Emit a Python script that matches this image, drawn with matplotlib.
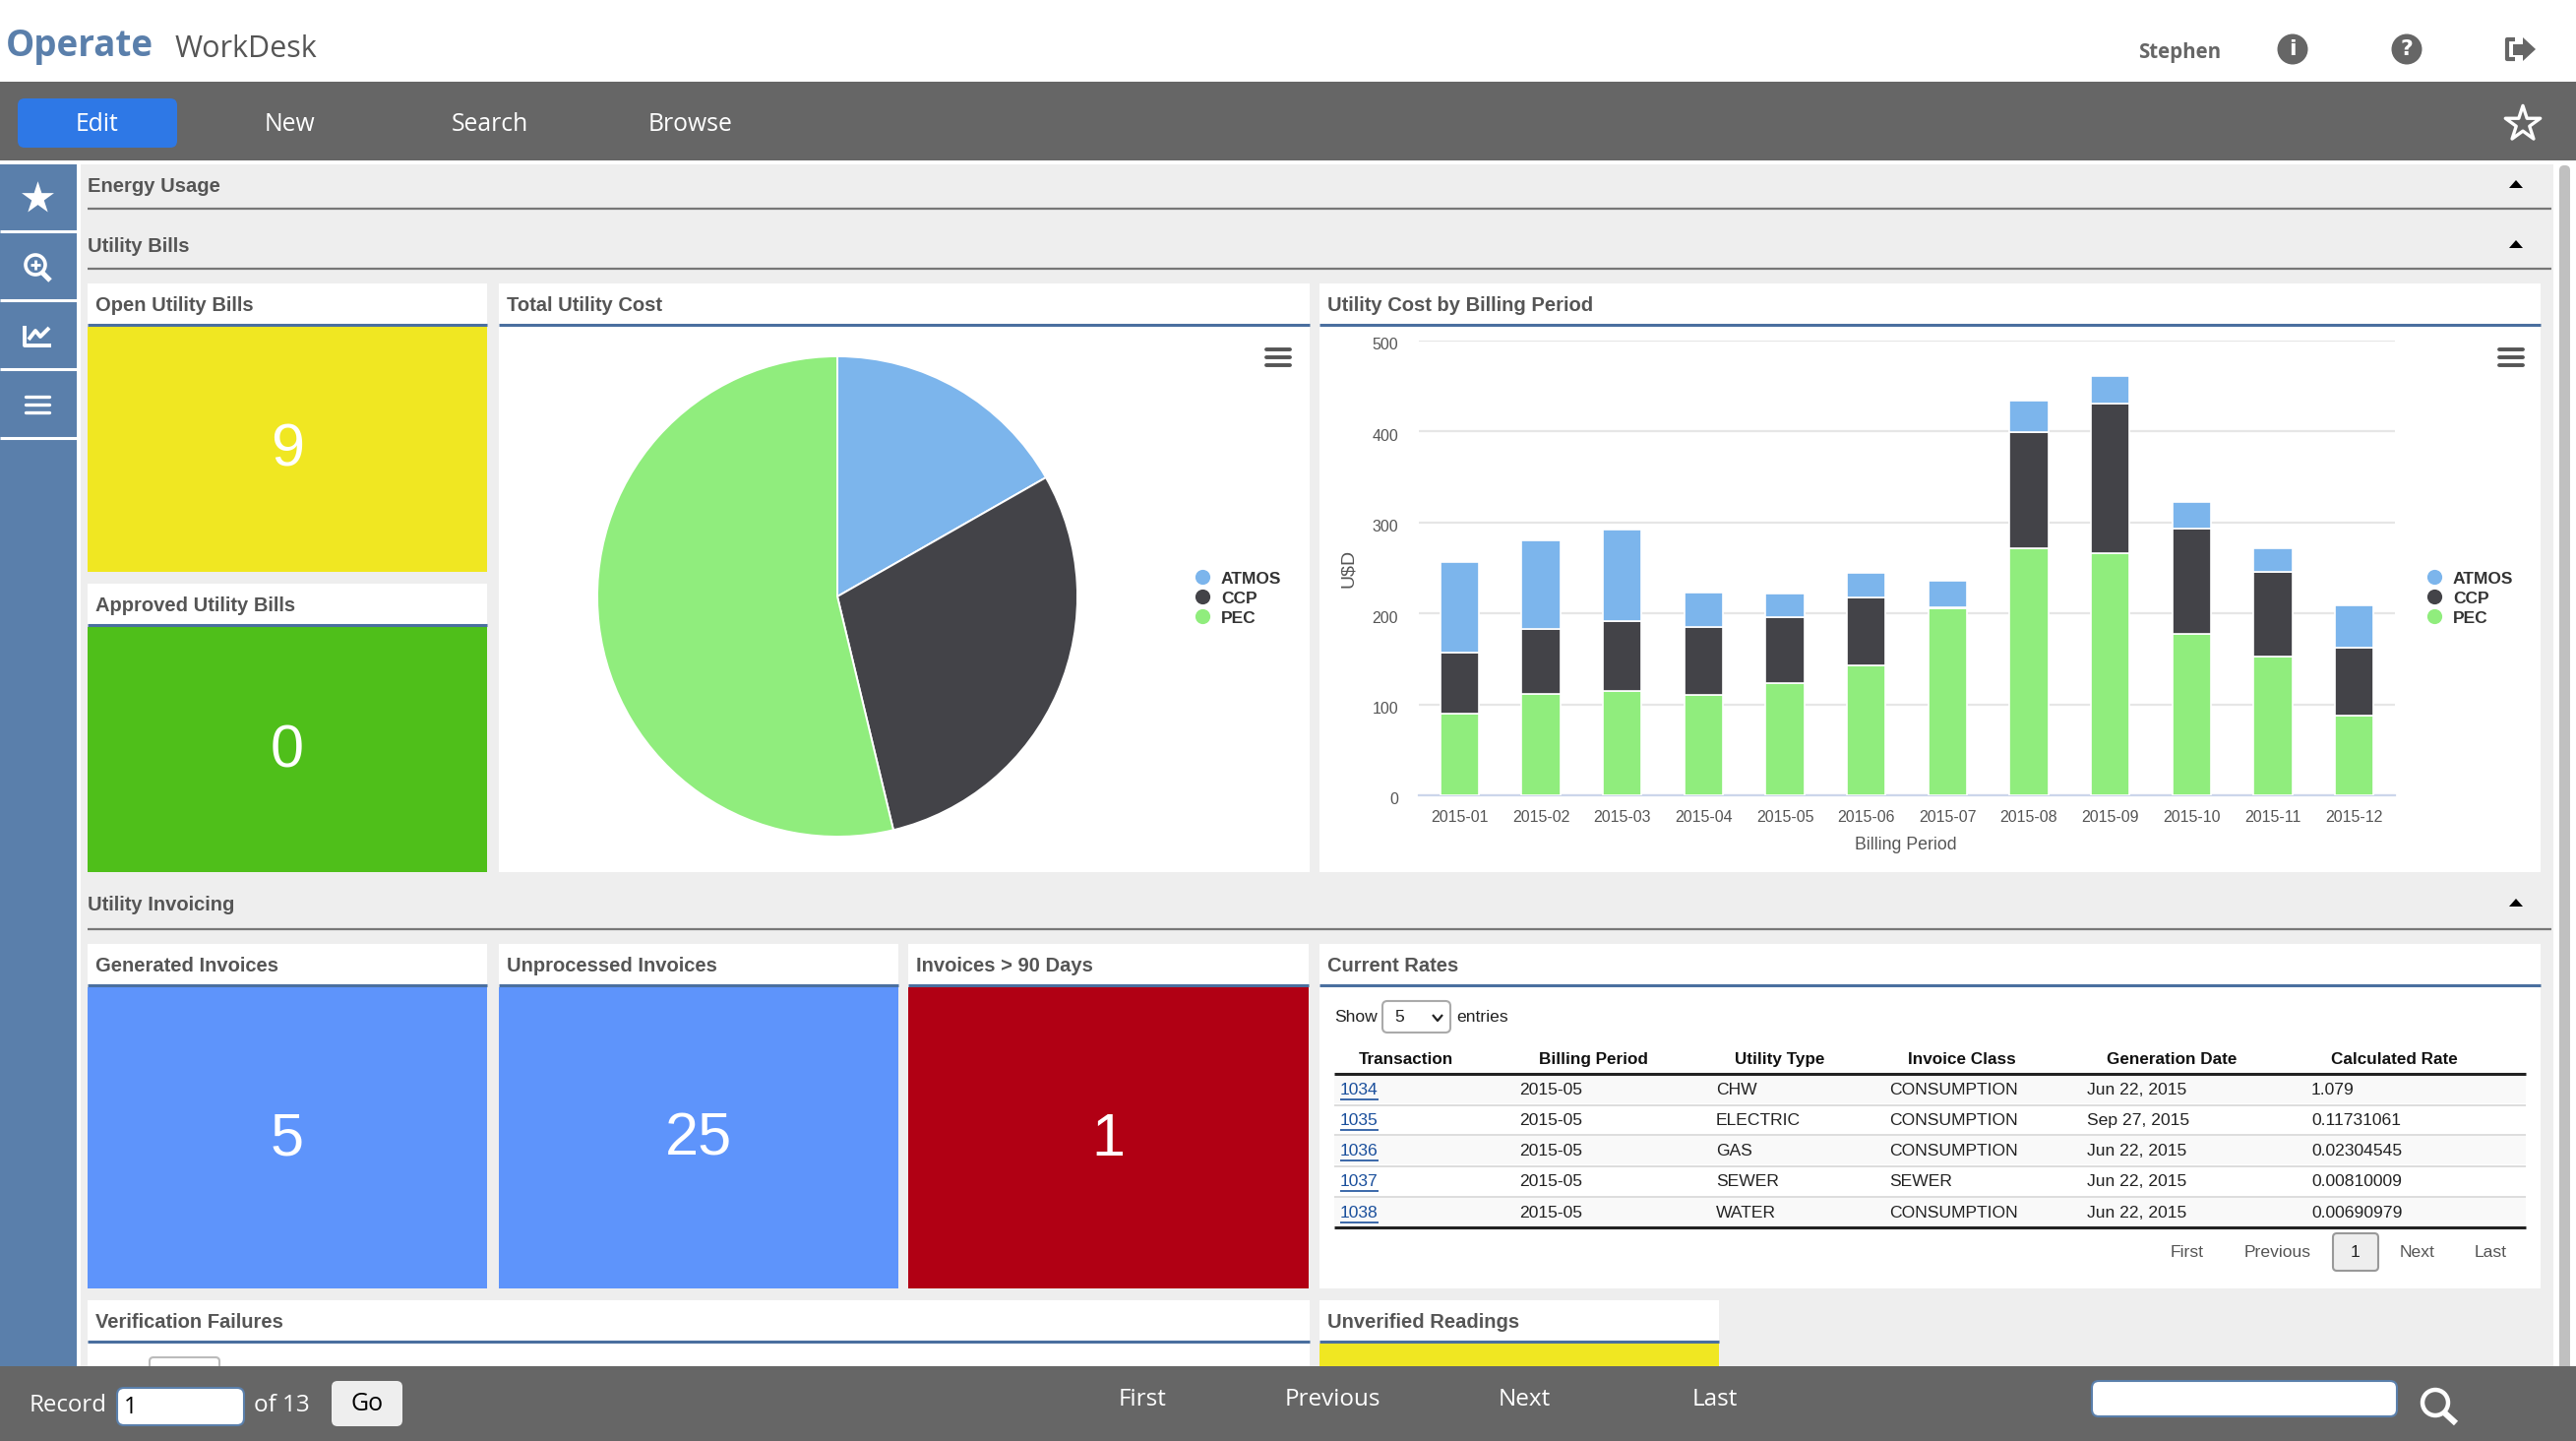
"""
Operate WorkDesk dashboard: page chrome on a full canvas axes in pixel units,
pie and stacked bars on their own axes placed on top of it.
"""

import matplotlib
matplotlib.use("Agg")
import matplotlib.pyplot as plt
from matplotlib.patches import Circle, FancyBboxPatch, Rectangle
from matplotlib.transforms import ScaledTranslation

W, H = 2618, 1464

SERIES = ["ATMOS", "CCP", "PEC"]
SERIES_COLORS = ["#7cb5ec", "#434348", "#90ed7d"]

# shares of the pie, clockwise from twelve o'clock
PIE_SHARES = [16.75, 29.5, 53.75]

PERIODS = ["2015-01", "2015-02", "2015-03", "2015-04", "2015-05", "2015-06",
           "2015-07", "2015-08", "2015-09", "2015-10", "2015-11", "2015-12"]
PEC = [90, 112, 115, 110, 123, 143, 206, 272, 266, 178, 153, 88]
CCP = [67, 71, 77, 75, 73, 75, 1, 127, 165, 115, 93, 74]
ATMOS = [99, 97, 100, 38, 26, 27, 29, 35, 30, 29, 26, 47]
Y_TICKS = [0, 100, 200, 300, 400, 500]

TABLE_HEADERS = ["Transaction", "Billing Period", "Utility Type",
                 "Invoice Class", "Generation Date", "Calculated Rate"]
TRANSACTIONS = ["1034", "1035", "1036", "1037", "1038"]
BILLING = ["2015-05", "2015-05", "2015-05", "2015-05", "2015-05"]
UTILITY = ["CHW", "ELECTRIC", "GAS", "SEWER", "WATER"]
INVOICE = ["CONSUMPTION", "CONSUMPTION", "CONSUMPTION", "SEWER", "CONSUMPTION"]
GEN_DATE = ["Jun 22, 2015", "Sep 27, 2015", "Jun 22, 2015", "Jun 22, 2015", "Jun 22, 2015"]
RATES = ["1.079", "0.11731061", "0.02304545", "0.00810009", "0.00690979"]

NAV_BG = "#666666"
SIDE_BLUE = "#5a7fab"
PAGE_BG = "#eeeeee"
TITLE_GREY = "#555555"
YELLOW = "#f0e722"
GREEN = "#4fbf1a"
BLUE = "#5e94fb"
RED = "#b10014"

UI_FONT = "Open Sans"
BODY_FONT = "Liberation Sans"

fig = plt.figure(figsize=(W / 100, H / 100), dpi=100, facecolor="white")
ui = fig.add_axes([0, 0, 1, 1], zorder=0)
ui.set_xlim(0, W)
ui.set_ylim(H, 0)
ui.axis("off")


def rect(x0, y0, x1, y1, color, z=1):
    ui.add_patch(Rectangle((x0, y0), x1 - x0, y1 - y0, facecolor=color, edgecolor="none", zorder=z))


def rounded(x0, y0, x1, y1, face, edge="none", lw=1.5, r=6, z=3):
    ui.add_patch(FancyBboxPatch((x0, y0), x1 - x0, y1 - y0, boxstyle=f"round,pad=0,rounding_size={r}",
                                facecolor=face, edgecolor=edge, linewidth=lw, zorder=z))


def label(x, y, s, size=12.6, color="#222222", weight="normal", ha="left", font=BODY_FONT, z=5, **kw):
    # browser text sits a touch lower than matplotlib's centre
    return ui.text(x, y + 1.5, s, fontsize=size, color=color, fontweight=weight, ha=ha, va="center",
                   family=font, zorder=z, **kw)


def line(xs, ys, color, lw=2, z=5, **kw):
    ui.plot(xs, ys, color=color, lw=lw, zorder=z, solid_capstyle=kw.pop("cap", "butt"), **kw)


def panel(x0, y0, x1, y1, title, fill=None, number=None):
    # white title band, blue rule, then either a coloured tile or a white body
    rect(x0, y0, x1, y1, "white", z=2)
    line([x0, x1], [y0 + 42, y0 + 42], "#4a6f9f", lw=2.2, z=3)
    label(x0 + 8, y0 + 21, title, size=14.5, color=TITLE_GREY, weight="bold")
    if fill:
        rect(x0, y0 + 44, x1, y1, fill, z=2)
    if number:
        label((x0 + x1) / 2, (y0 + 45 + y1) / 2, number, size=44, color="white", ha="center")


def section(y_text, y_rule, title):
    label(89, y_text, title, size=14.5, color=TITLE_GREY, weight="bold")
    line([89, 2593], [y_rule, y_rule], "#777777", lw=1.6, z=3)
    ui.fill([2550, 2564, 2557], [y_text + 3, y_text + 3, y_text - 5], color="black", lw=0, zorder=5)


def hamburger(cx, cy, half=12, color="#555555", lw=2.8):
    for dy in (-8, 0, 8):
        line([cx - half, cx + half], [cy + dy, cy + dy], color, lw=lw, cap="round")


def add_axes_px(x0, y0, x1, y1):
    return fig.add_axes([x0 / W, 1 - y1 / H, (x1 - x0) / W, (y1 - y0) / H], zorder=2)


# ---- Page background ----
rect(82, 167, 2595, 1388, PAGE_BG, z=0)
rect(0, 167, 78, 1388, SIDE_BLUE, z=1)
for y in (235, 305, 375, 445):
    line([0, 78], [y, y], "white", lw=2.2, z=2)
rounded(2601, 168, 2612, 1420, "#c0c0c0", r=5, z=1)

# ---- Top header ----
label(6, 46, "Operate", size=26.5, color=SIDE_BLUE, weight="bold", font=UI_FONT)
label(178, 48, "WorkDesk", size=22, color="#555555", font=UI_FONT)
label(2173, 52, "Stephen", size=14.8, color="#666666", weight="bold", font=UI_FONT)
for cx, glyph in ((2330, "i"), (2446, "?")):
    ui.add_patch(Circle((cx, 50), 15.5, facecolor="#666666", edgecolor="none", zorder=3))
    label(cx, 48, glyph, size=16, color="white", weight="bold", ha="center", font="DejaVu Sans")
# logout icon: bracket and arrow
line([2556, 2548, 2548, 2556], [40, 40, 60, 60], "#666666", lw=3)
rect(2554, 45, 2565, 56, "#666666", z=5)
ui.fill([2564, 2577, 2564], [38, 50, 62], color="#666666", lw=0, zorder=5)

# ---- Nav bar ----
rect(0, 83, W, 163, NAV_BG, z=1)
rounded(18, 100, 180, 150, "#2e78e6", r=7)
for cx, s in ((99, "Edit"), (294, "New"), (498, "Search"), (702, "Browse")):
    label(cx, 125, s, size=17.8, color="white", ha="center", font=UI_FONT)
ui.scatter([2564], [126], marker="*", s=720, facecolor="none", edgecolor="white", linewidths=2.4, zorder=5)

# ---- Sidebar icons ----
ui.scatter([38], [201], marker="*", s=620, color="white", linewidths=0, zorder=5)
ui.add_patch(Circle((36, 269), 10, facecolor="none", edgecolor="white", linewidth=2.6, zorder=5))
line([43, 51], [277, 285], "white", lw=3.6)
line([31, 41], [269, 269], "white", lw=2)
line([36, 36], [264, 274], "white", lw=2)
line([25, 25, 52], [331, 351, 351], "white", lw=2.8)
line([29, 36, 41, 50], [345, 336, 342, 333], "white", lw=2.8)
hamburger(38, 411, half=12, color="white", lw=2.4)

# ---- Sections and panels ----
section(188, 212, "Energy Usage")
section(249, 273, "Utility Bills")
section(918, 944, "Utility Invoicing")

panel(89, 288, 495, 581, "Open Utility Bills", YELLOW, "9")
panel(89, 593, 495, 886, "Approved Utility Bills", GREEN, "0")
panel(507, 288, 1331, 886, "Total Utility Cost")
panel(1341, 288, 2582, 886, "Utility Cost by Billing Period")
hamburger(1299, 363)
hamburger(2552, 363)

panel(89, 959, 495, 1309, "Generated Invoices", BLUE, "5")
panel(507, 959, 913, 1309, "Unprocessed Invoices", BLUE, "25")
panel(923, 959, 1330, 1309, "Invoices > 90 Days", RED, "1")
panel(1341, 959, 2582, 1309, "Current Rates")

panel(89, 1321, 1331, 1400, "Verification Failures")
panel(1341, 1321, 1747, 1400, "Unverified Readings", YELLOW)
rounded(152, 1379, 223, 1400, "white", edge="#bbbbbb", r=4)

# ---- Pie ----
ax_pie = add_axes_px(851 - 245, 606 - 245, 851 + 245, 606 + 245)
ax_pie.pie(PIE_SHARES, colors=SERIES_COLORS, startangle=90, counterclock=False, radius=244 / 245,
           wedgeprops={"edgecolor": "white", "linewidth": 1.4})
ax_pie.set_xlim(-1, 1)
ax_pie.set_ylim(-1, 1)

for name, color, y in zip(SERIES, SERIES_COLORS, (586, 606, 626)):
    for x_mark, x_text in ((1222, 1241), (2474, 2493)):
        ui.scatter([x_mark], [y], s=120, color=color, linewidths=0, zorder=5)
        label(x_text, y + 1, name, size=12.5, color="#333333", weight="bold")

# ---- Stacked bars ----
ax_bar = add_axes_px(1442, 346, 2434, 808)
ax_bar.patch.set_alpha(0)
positions = range(len(PERIODS))
bar_style = {"width": 0.475, "edgecolor": "white", "linewidth": 1.2, "zorder": 3}
ax_bar.bar(positions, PEC, color=SERIES_COLORS[2], **bar_style)
ax_bar.bar(positions, CCP, bottom=PEC, color=SERIES_COLORS[1], **bar_style)
stack = [p + c for p, c in zip(PEC, CCP)]
ax_bar.bar(positions, ATMOS, bottom=stack, color=SERIES_COLORS[0], **bar_style)
ax_bar.set_xlim(-0.5, 11.5)
ax_bar.set_ylim(0, 500)
ax_bar.set_xticks(list(positions), PERIODS, family=BODY_FONT, fontsize=11.5, color="#555555")
ax_bar.set_yticks(Y_TICKS)
ax_bar.set_yticklabels([str(v) for v in Y_TICKS], family=BODY_FONT, fontsize=11.5, color="#555555")
ax_bar.tick_params(axis="both", length=0)
ax_bar.tick_params(axis="x", pad=11)
ax_bar.tick_params(axis="y", pad=15)
ax_bar.grid(axis="y", color="#e6e6e6", linewidth=1.6, zorder=0)
ax_bar.set_axisbelow(True)
for side in ("top", "right", "left"):
    ax_bar.spines[side].set_visible(False)
ax_bar.spines["bottom"].set_color("#ccd6eb")
ax_bar.spines["bottom"].set_linewidth(1.6)
for tl in ax_bar.get_yticklabels():
    tl.set_transform(tl.get_transform() + ScaledTranslation(0, -2.5 / 72, fig.dpi_scale_trans))
label(1370, 576, "U$D", size=14, color="#555555", ha="center", rotation=90)
label(1937, 857, "Billing Period", size=12.8, color="#555555", ha="center")

# ---- Current Rates table ----
label(1356, 1032, "Show", size=12.6)
rounded(1405, 1017, 1474, 1049, "white", edge="#aaaaaa", r=5)
label(1417, 1032, "5", size=12.6)
line([1456, 1461, 1466], [1031, 1037, 1031], "#222222", lw=1.6)
label(1480, 1032, "entries", size=12.6)

row_y = [1106, 1137, 1168, 1199, 1231]
header_x = [1429, 1619, 1809, 1994, 2207, 2433]
col_x = [1362, 1544, 1744, 1920, 2121, 2349]
for x, s in zip(header_x, TABLE_HEADERS):
    label(x, 1075, s, size=12.3, color="#111111", weight="bold", ha="center")
line([1356, 2567], [1091, 1091], "#222222", lw=2.2)
line([1356, 2567], [1247, 1247], "#222222", lw=2.2)
for y in (1106, 1168, 1231):
    rect(1356, y - 16, 2567, y + 15, "#f9f9f9", z=3)
for y in (1123, 1153, 1185, 1216):
    line([1356, 2567], [y, y], "#dddddd", lw=1.4, z=4)
for i, y in enumerate(row_y):
    label(col_x[0], y, TRANSACTIONS[i], color="#1a4f9c")
    line([col_x[0], col_x[0] + 39], [y + 11, y + 11], "#1a4f9c", lw=1.2)
    for x, s in zip(col_x[1:], (BILLING[i], UTILITY[i], INVOICE[i], GEN_DATE[i], RATES[i])):
        label(x, y, s)

for cx, s in ((2223, "First"), (2315, "Previous"), (2457, "Next"), (2531, "Last")):
    label(cx, 1271, s, size=12.6, color="#555555", ha="center")
rounded(2371, 1253, 2417, 1291, "#eeeeee", edge="#999999", r=4)
label(2394, 1271, "1", size=12.6, ha="center")

# ---- Bottom bar ----
rect(0, 1388, W, H, NAV_BG, z=6)
label(30, 1427, "Record", size=17.3, color="white", font=UI_FONT, z=8)
rounded(119, 1410, 248, 1448, "white", edge="#5a7fab", r=7, z=7)
label(126, 1428, "1", size=17.3, color="black", font=UI_FONT, z=8)
label(258, 1427, "of 13", size=17.5, color="white", font=UI_FONT, z=8)
rounded(337, 1403, 409, 1449, "#eeeeee", r=6, z=7)
label(373, 1425, "Go", size=18, color="black", ha="center", font=UI_FONT, z=8)
for cx, s in ((1161, "First"), (1354, "Previous"), (1549, "Next"), (1743, "Last")):
    label(cx, 1420, s, size=17.5, color="white", ha="center", font=UI_FONT, z=8)
rounded(2126, 1403, 2436, 1439, "white", edge="#5a7fab", r=7, z=7)
ui.add_patch(Circle((2475, 1425), 13, facecolor="none", edgecolor="white", linewidth=3.2, zorder=8))
line([2484, 2496], [1435, 1446], "white", lw=4.4, z=8)

fig.savefig("out.png", dpi=100)
plt.close(fig)
